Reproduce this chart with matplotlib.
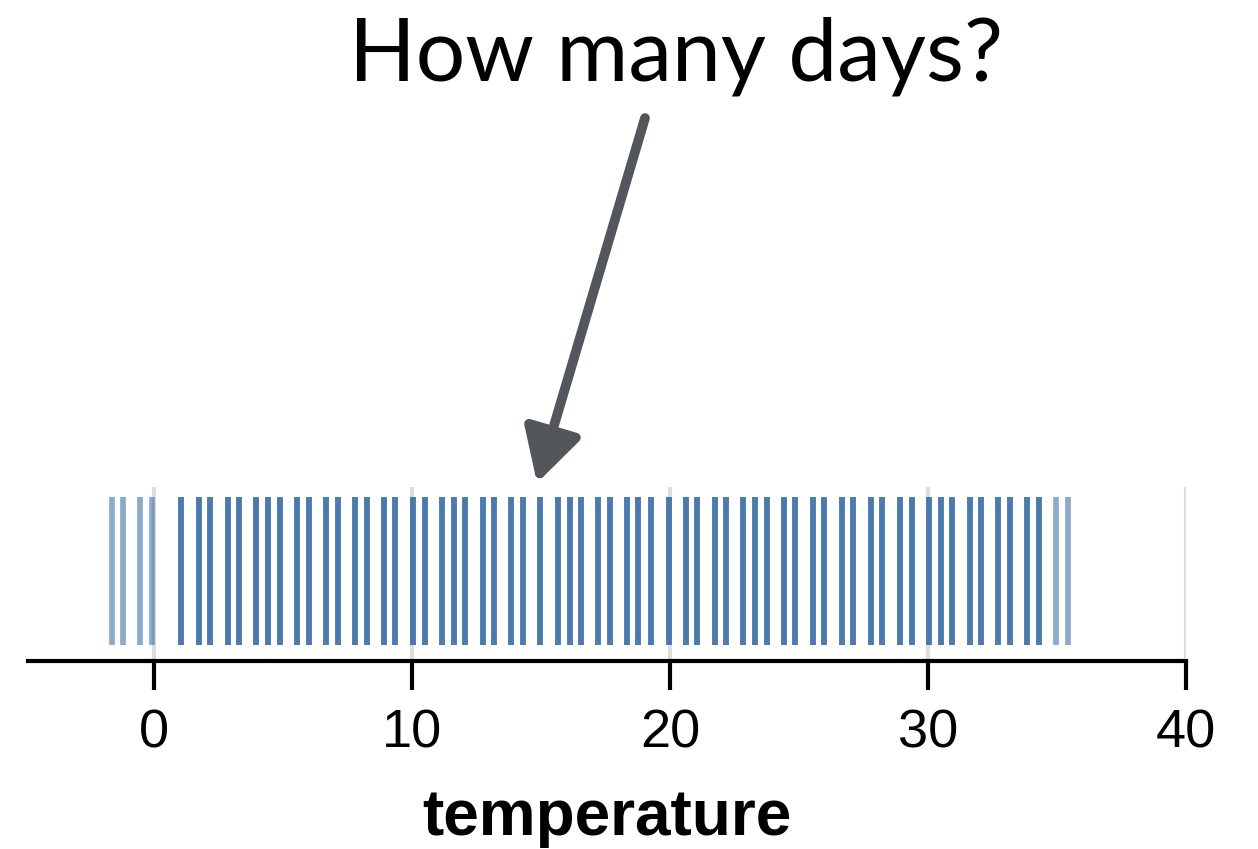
import matplotlib.pyplot as plt
from matplotlib.patches import FancyArrowPatch

# daily temperatures (one rug line per value, counts = days at that value)
temps = [-1.65, -1.21, -0.54, -0.09, 1.05, 1.73, 2.16, 2.85, 3.29, 3.95,
         4.41, 4.87, 5.53, 5.99, 6.66, 7.12, 7.79, 8.23, 8.90, 9.34,
         10.03, 10.48, 11.15, 11.61, 12.05, 12.74, 13.16, 13.83, 14.30, 14.97,
         15.66, 16.10, 16.54, 17.22, 17.66, 18.33, 18.76, 19.25, 19.94, 20.60,
         21.04, 21.72, 22.16, 22.83, 23.30, 23.74, 24.41, 24.85, 25.54, 25.97,
         26.65, 27.10, 27.78, 28.22, 28.91, 29.36, 30.04, 30.49, 30.93, 31.61,
         32.05, 32.72, 33.17, 33.84, 34.30, 34.97, 35.42]
counts = [1, 1, 1, 1] + [3] * 61 + [1, 1]
xticks = [0, 10, 20, 30, 40]

fig = plt.figure(figsize=(12.58, 8.49), dpi=100)
ax = fig.add_axes([28 / 1258, 188 / 849, 1158 / 1258, 174 / 849])

# rug: stack semi-transparent lines so repeated days look darker
xs = []
for t, c in zip(temps, counts):
    xs += [t] * c
ax.vlines(xs, 0.092, 0.943, color='#3f72a8', alpha=0.6, lw=4.1, zorder=3)

ax.set_xlim(-4.9, 40)
ax.set_ylim(0, 1)
ax.set_xticks(xticks)
ax.set_yticks([])
ax.grid(axis='x', color='#dddddd', lw=3, zorder=0)
ax.set_axisbelow(True)
for s in ['top', 'left', 'right']:
    ax.spines[s].set_visible(False)
ax.spines['bottom'].set_linewidth(3)
ax.tick_params(axis='x', length=21, width=3, pad=13, labelsize=39)
for lab in ax.get_xticklabels():
    lab.set_fontfamily('Liberation Sans')

fig.text(607 / 1258, 1 - 835 / 849, 'temperature', ha='center', va='baseline',
         fontsize=46, fontweight='bold', family='Liberation Sans')

# title + arrow
fig.text(676 / 1258, 1 - 80 / 849, 'How many days?', ha='center', va='baseline',
         fontsize=63, fontweight='normal', family='Lato')
arrow = FancyArrowPatch((645 / 1258, 1 - 118 / 849), (537 / 1258, 1 - 483 / 849),
                        transform=fig.transFigure, arrowstyle='-|>,head_length=1.0,head_width=0.55',
                        mutation_scale=32, lw=7, color='#53575c', shrinkA=0, shrinkB=0)
fig.add_artist(arrow)

fig.savefig('out.png', dpi=100)
